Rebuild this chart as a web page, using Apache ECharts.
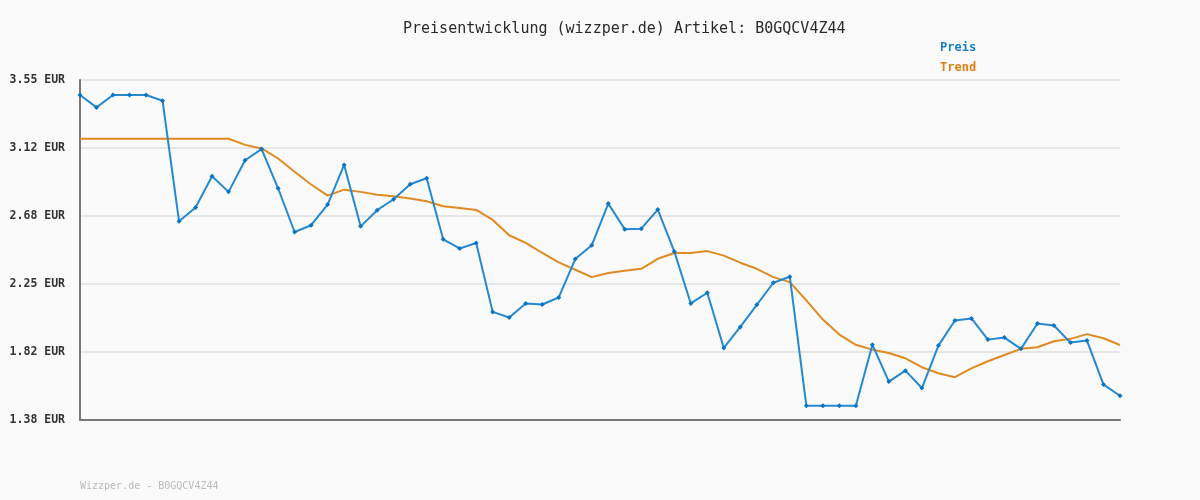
<!DOCTYPE html>
<html>
<head>
<meta charset="utf-8">
<script src="https://cdn.jsdelivr.net/npm/echarts@6/dist/echarts.min.js"></script>
<style>
  html, body { margin: 0; padding: 0; background: #fafafa; }
  #chart { width: 1200px; height: 500px; }
</style>
</head>
<body>
<div id="chart"></div>
<script>
// values
var preis = [
	3.454, 3.375, 3.454, 3.454, 3.454, 3.418, 2.648, 2.736, 2.936, 2.836,
	3.038, 3.109, 2.859, 2.580, 2.623, 2.755, 3.008, 2.616, 2.719, 2.789,
	2.885, 2.923, 2.533, 2.475, 2.510, 2.070, 2.034, 2.124, 2.117, 2.162,
	2.407, 2.495, 2.761, 2.597, 2.601, 2.723, 2.456, 2.124, 2.192, 1.840,
	1.974, 2.115, 2.256, 2.294, 1.471, 1.471, 1.471, 1.471, 1.861, 1.625,
	1.695, 1.584, 1.855, 2.015, 2.028, 1.893, 1.906, 1.834, 1.996, 1.983,
	1.874, 1.887, 1.606, 1.535
];
var trend = [
	3.175, 3.175, 3.175, 3.175, 3.175, 3.175, 3.175, 3.175, 3.175, 3.175,
	3.136, 3.113, 3.049, 2.964, 2.883, 2.812, 2.850, 2.836, 2.817, 2.808,
	2.793, 2.776, 2.744, 2.733, 2.721, 2.657, 2.559, 2.510, 2.446, 2.386,
	2.339, 2.292, 2.318, 2.333, 2.345, 2.409, 2.446, 2.446, 2.458, 2.429,
	2.384, 2.345, 2.292, 2.260, 2.143, 2.021, 1.925, 1.860, 1.829, 1.808,
	1.774, 1.717, 1.678, 1.653, 1.710, 1.755, 1.795, 1.834, 1.844, 1.883,
	1.898, 1.928, 1.902, 1.859
];
var yTickValues = [1.38, 1.814, 2.248, 2.682, 3.116, 3.55];
var yTickLabels = ['1.38', '1.82', '2.25', '2.68', '3.12', '3.55'];

var categories = [];
for (var i = 0; i < preis.length; i++) categories.push(String(i + 1));

var mono = '"DejaVu Sans Mono", monospace';
var myChart = echarts.init(document.getElementById('chart'));

var chartOption = {
	backgroundColor: '#fafafa',
	animation: false,
	title: {
		text: 'Preisentwicklung (wizzper.de) Artikel: B0GQCV4Z44',
		left: 398,
		top: 17,
		textStyle: { fontFamily: mono, fontSize: 15, fontWeight: 'normal', color: '#2a2a2a' }
	},
	legend: {
		orient: 'vertical',
		left: 935,
		top: 36,
		icon: 'none',
		itemWidth: 0,
		itemGap: 7,
		data: [
			{ name: 'Preis', textStyle: { color: '#1a7fc8' } },
			{ name: 'Trend', textStyle: { color: '#e07f10' } }
		],
		textStyle: { fontFamily: mono, fontSize: 12, fontWeight: 'bold', padding: [0, 0, 0, -5] }
	},
	graphic: [{
		type: 'text',
		left: 80,
		top: 481,
		style: { text: 'Wizzper.de - B0GQCV4Z44', fill: '#bbb', font: '10px ' + mono }
	}],
	grid: { left: 80, right: 80, top: 80, bottom: 80, containLabel: false },
	xAxis: {
		type: 'category',
		data: categories,
		boundaryGap: false,
		axisLine: { lineStyle: { color: '#777', width: 2 } },
		axisTick: { show: false },
		axisLabel: { show: false },
		splitLine: { show: false }
	},
	yAxis: {
		type: 'value',
		min: 1.38,
		max: 3.55,
		axisLine: { show: true, lineStyle: { color: '#777', width: 2 } },
		axisTick: { show: false, customValues: yTickValues },
		axisLabel: {
			customValues: yTickValues,
			margin: 15,
			fontFamily: mono,
			fontSize: 11.5,
			fontWeight: 'bold',
			color: '#333',
			formatter: function (v) {
				var k = yTickValues.indexOf(v);
				return (k >= 0 ? yTickLabels[k] : v.toFixed(2)) + ' EUR';
			}
		},
		splitLine: { show: true, lineStyle: { color: '#e6e6e6', width: 2 } }
	},
	series: [
		{
			name: 'Preis',
			type: 'line',
			data: preis,
			symbol: 'diamond',
			symbolSize: 5,
			itemStyle: { color: '#0b74c2' },
			lineStyle: { color: '#2589d2', width: 2 },
			z: 3
		},
		{
			name: 'Trend',
			type: 'line',
			data: trend,
			showSymbol: false,
			symbol: 'none',
			itemStyle: { color: '#e08a22' },
			lineStyle: { color: '#e08a22', width: 2 },
			z: 2
		}
	]
};

myChart.setOption(chartOption);
</script>
</body>
</html>
